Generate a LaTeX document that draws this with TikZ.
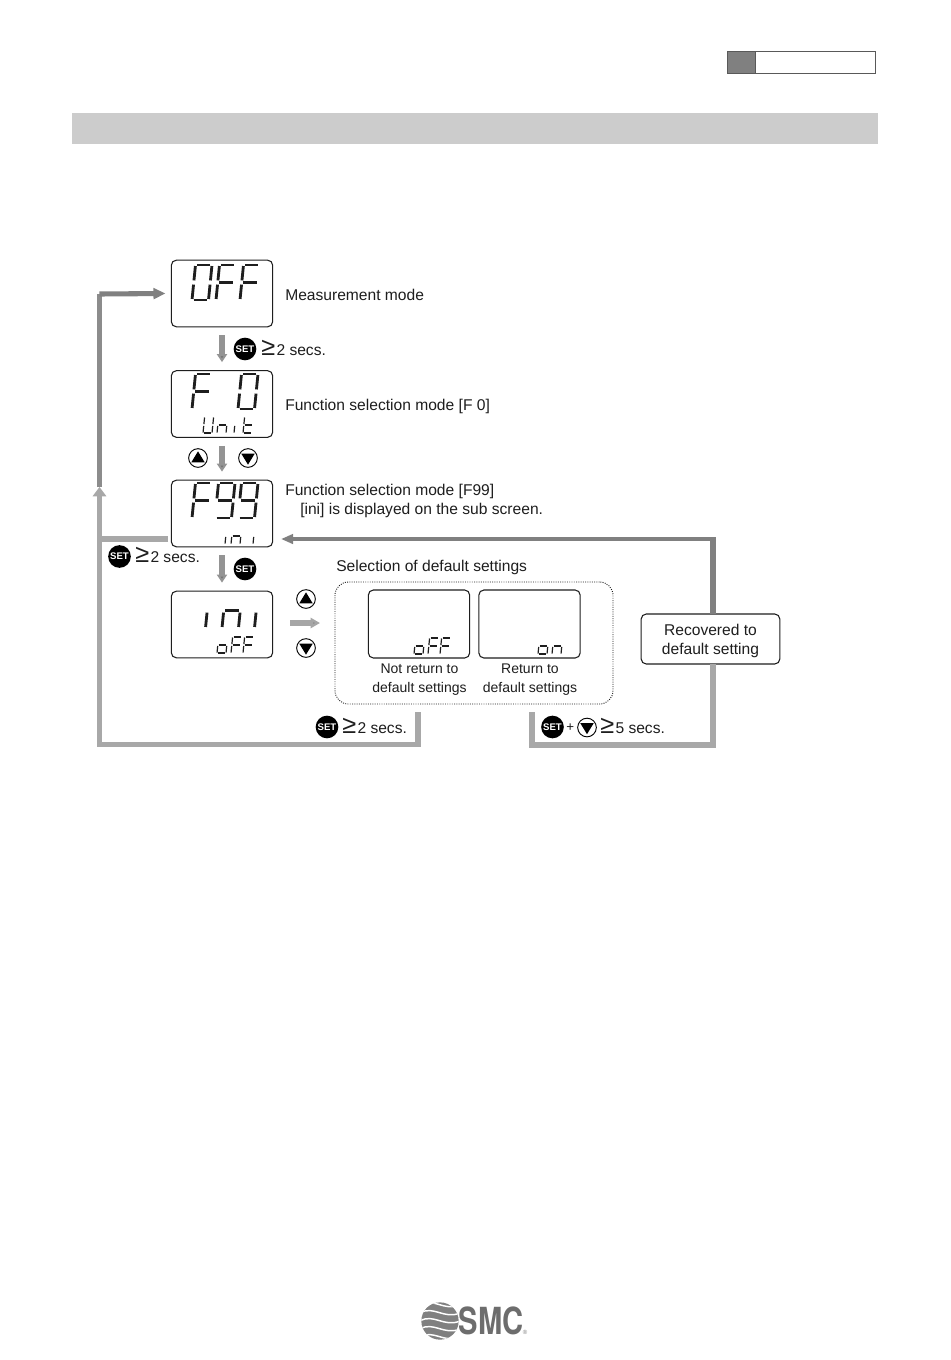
\documentclass[tikz,border=0pt]{standalone}
\usepackage{fontspec}
\setmainfont{Liberation Sans}
\newfontfamily\logofont{TeX Gyre Heros}
\usetikzlibrary{arrows.meta}
\definecolor{tx}{HTML}{1E1E1E}
\definecolor{barD}{HTML}{808080}
\definecolor{barM}{HTML}{8C8C8C}
\definecolor{barL}{HTML}{A8A8A8}
\newcommand{\sgA}{\draw (.1,1)--(.9,1);}
\newcommand{\sgB}{\draw (1,.97)--(1,.56);}
\newcommand{\sgC}{\draw (1,.44)--(1,.03);}
\newcommand{\sgD}{\draw (.1,0)--(.9,0);}
\newcommand{\sgE}{\draw (0,.03)--(0,.44);}
\newcommand{\sgF}{\draw (0,.56)--(0,.97);}
\newcommand{\sgG}{\draw (.1,.5)--(.9,.5);}
% x of lower-left, y of lower edge, width, height, line width, segments
\newcommand{\dgt}[6]{\begin{scope}[shift={(#1,#2)},x={(0.75*#3 pt,0pt)},y={(0.075*#4 pt,0.75*#4 pt)},line width=#5pt,line cap=butt,tx]#6\end{scope}}
\newcommand{\bigdg}[3]{\dgt{#1}{#2}{16.5}{35}{2.1}{#3}}
\newcommand{\subdg}[3]{\dgt{#1}{#2}{9}{16}{0.9}{#3}}
\newcommand{\secs}[1]{{\fontsize{19}{19}\selectfont ≥}\hspace{1pt}#1 secs.}
\newcommand{\upbtn}[3]{\node[updown] (#1) at (#2,#3) {};\fill[black] ([xshift=-5pt,yshift=-3.2pt]#1.center)--([xshift=5pt,yshift=-3.2pt]#1.center)--([yshift=5pt]#1.center)--cycle;}
\newcommand{\dnbtn}[3]{\node[updown] (#1) at (#2,#3) {};\fill[black] ([xshift=-5pt,yshift=3.2pt]#1.center)--([xshift=5pt,yshift=3.2pt]#1.center)--([yshift=-5pt]#1.center)--cycle;}
\tikzset{
  lcd/.style={draw=tx,line width=.8pt,rounded corners=3.8pt,fill=white,inner sep=0,minimum width=76pt,minimum height=50pt},
  lab/.style={anchor=west,inner sep=0,text=tx,font=\fontsize{11.7}{14}\selectfont},
  captext/.style={align=center,inner sep=0,text=tx,font=\fontsize{10.5}{14.2}\selectfont},
  setb/.style={circle,fill=black,inner sep=0,minimum size=17pt,text=white,font=\bfseries\fontsize{7.2}{8}\selectfont},
  updown/.style={circle,draw=black,line width=.7pt,fill=white,inner sep=0,minimum size=14pt},
  darkbar/.style={draw=barD,line width=3.8pt},
  midbar/.style={draw=barM,line width=3.8pt},
  lightbar/.style={draw=barL,line width=3.8pt},
  smallarrow/.style={draw=black!42,line width=4.6pt,-{Triangle[length=6pt,width=7.5pt,fill=black!55]}},
}
\begin{document}
\begin{tikzpicture}[x=0.75pt,y=-0.75pt]
\useasboundingbox (0,0) rectangle (950,1360);
\fill[white] (0,0) rectangle (950,1360);
% header
\node[draw=black!65,line width=.6pt,minimum width=111pt,minimum height=16.5pt,inner sep=0] (tab) at (801,62) {};
\node[draw=black!65,fill=barD,line width=.6pt,minimum width=21.5pt,minimum height=16.5pt,inner sep=0] (tabd) at (741.5,62) {};
\node[fill=black!20,minimum width=604.5pt,minimum height=23.5pt,inner sep=0] (band) at (475,128.5) {};
% displays
\node[lcd] (n1) at (222,293.5) {};
\node[lcd] (n2) at (222,404) {};
\node[lcd] (n3) at (222,513.5) {};
\node[lcd] (n4) at (222,624.5) {};
\node[draw=tx,line width=.7pt,densely dotted,rounded corners=10pt,minimum width=208.5pt,minimum height=91.5pt,inner sep=0] (selbox) at (474,643) {};
\node[lcd,minimum height=51pt] (s1) at (419,624) {};
\node[lcd,minimum height=51pt] (s2) at (529.5,624) {};
\node[lcd,minimum width=104pt,minimum height=37.5pt,text=tx,align=center,text depth=0pt,font=\fontsize{11.7}{14.2}\selectfont] (rec) at (710.5,639) {Recovered to\\default setting};
% big digits
\bigdg{192}{300}{\sgA\sgB\sgC\sgD\sgE\sgF}
\bigdg{216}{300}{\sgA\sgE\sgF\sgG}
\bigdg{240}{300}{\sgA\sgE\sgF\sgG}
\bigdg{192}{409}{\sgA\sgE\sgF\sgG}
\bigdg{238}{409}{\sgA\sgB\sgC\sgD\sgE\sgF}
\bigdg{192}{518}{\sgA\sgE\sgF\sgG}
\bigdg{215}{518}{\sgA\sgB\sgC\sgD\sgF\sgG}
\bigdg{238}{518}{\sgA\sgB\sgC\sgD\sgF\sgG}
\bigdg{189}{628}{\sgC}
\bigdg{222}{628}{\sgC\sgE\sgG}
\bigdg{238}{628}{\sgC}
% small digits
\subdg{203}{433}{\sgB\sgC\sgD\sgE\sgF}
\subdg{217}{433}{\sgC\sgE\sgG}
\subdg{225}{433}{\sgC}
\subdg{243}{433}{\sgD\sgE\sgF\sgG}
\subdg{216}{544}{\sgC}
\subdg{231}{544}{\sgC\sgE\sgG}
\subdg{244}{544}{\sgC}
\subdg{217}{653}{\sgC\sgD\sgE\sgG}
\subdg{231}{653}{\sgA\sgE\sgF\sgG}
\subdg{243}{653}{\sgA\sgE\sgF\sgG}
\subdg{414}{654}{\sgC\sgD\sgE\sgG}
\subdg{428}{654}{\sgA\sgE\sgF\sgG}
\subdg{440}{654}{\sgA\sgE\sgF\sgG}
\subdg{538}{654}{\sgC\sgD\sgE\sgG}
\subdg{552}{654}{\sgC\sgE\sgG}
% labels
\node[lab] (t1) at (285,294.5) {Measurement mode};
\node[lab] (t2) at (285,406.3) {Function selection mode [F 0]};
\node[lab] (t3) at (285,491.5) {Function selection mode [F99]};
\node[lab] (t4) at (300,510) {[ini] is displayed on the sub screen.};
\node[lab] (t5) at (336,567.5) {Selection of default settings};
\node[captext] (c1) at (419.5,680) {Not return to\\default settings};
\node[captext] (c2) at (530,680) {Return to\\default settings};
% buttons
\node[setb] (b1) at (245,349) {SET};
\node[lab] (g1) at (261,347.5) {\secs{2}};
\node[setb] (b2) at (119.5,556.5) {SET};
\node[lab] (g2) at (135,555) {\secs{2}};
\node[setb] (b3) at (245,569) {SET};
\node[setb] (b4) at (327,727) {SET};
\node[lab] (g4) at (342,725.5) {\secs{2}};
\node[setb] (b5) at (552.5,727) {SET};
\node[lab,font=\fontsize{10}{11}\selectfont] (pl) at (566,728) {+};
\dnbtn{d3}{587}{727.5}
\node[lab] (g5) at (600,725.5) {\secs{5}};
\upbtn{u1}{198}{458}
\dnbtn{d1}{248}{458}
\upbtn{u2}{306}{599}
\dnbtn{d2}{306}{648}
% free ends of the connectors
\coordinate (cx) at (99.5,539);
\coordinate (ctop) at (99.5,294);
\coordinate (cup) at (99.5,487);
\coordinate (cupb) at (99.5,744.5);
\coordinate (lt) at (418,712);
\coordinate (lb) at (418,744.5);
\coordinate (rt) at (532,712);
\coordinate (rb) at (532,745);
\coordinate (rc) at (713,745);
\coordinate (rr) at (713,539);
\coordinate (rm1) at (713,614);
\coordinate (rm2) at (713,664);
\coordinate (rin) at (281,539);
\coordinate (n3l) at (168,539);
\coordinate (ha) at (290,623);
\coordinate (hb) at (320,623);
% connectors
\draw[midbar] (cup) -- (ctop);
\draw[darkbar,-{Triangle[length=9pt,width=8pt,fill=barD]}] (ctop) -- ([xshift=-4pt]n1.west);
\draw[lightbar,-{Triangle[length=7pt,width=10pt,fill=barL]}] (lt) -- (lb) -- (cupb) -- (cup);
\draw[lightbar] (n3l) -- (cx);
\draw[lightbar] (rt) -- (rb) -- (rc) -- (rm2);
\draw[darkbar] (rm1) -- (rr);
\draw[darkbar,line width=3.3pt,line cap=butt,-{Triangle[length=9pt,width=7pt,fill=barD]}] ([xshift=2.4pt]rr) -- (rin);
\draw[smallarrow,shorten <=6pt,shorten >=6pt] (n1.south) -- (n2.north);
\draw[smallarrow,shorten <=6pt,shorten >=6pt] (n2.south) -- (n3.north);
\draw[smallarrow,shorten <=6pt,shorten >=6pt] (n3.south) -- (n4.north);
\draw[draw=black!35,line width=4.6pt,-{Triangle[length=7pt,width=7.5pt,fill=black!45]}] (ha) -- (hb);
% logo
\node[circle,fill=barD,minimum size=28pt,inner sep=0] (globe) at (440,1321) {};
\begin{scope}
\clip (globe) circle (14pt);
\foreach \o in {-12,-6,0,6,12}{
  \draw[white,line width=1.1pt] ([shift={(-15pt,{\o*1pt})}]globe.center) .. controls ([shift={(-5pt,{(\o+6)*1pt})}]globe.center) and ([shift={(3pt,{(\o-5)*1pt})}]globe.center) .. ([shift={(15pt,{\o*1pt})}]globe.center);
}
\end{scope}
\node[inner sep=0,text=barD!85!black,font=\logofont\bfseries\fontsize{28}{30}\selectfont,xscale=.78,transform shape] (smc) at (491,1320.5) {SMC};
\node[inner sep=0,text=barD,font=\fontsize{4.5}{5}\selectfont] (reg) at (525,1332) {®};
\end{tikzpicture}
\end{document}
